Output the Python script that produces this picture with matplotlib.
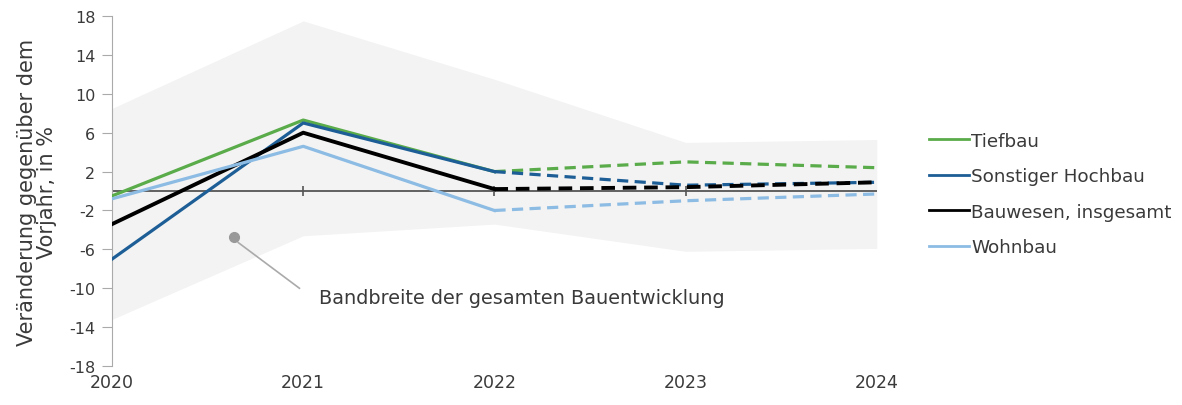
import numpy as np
import matplotlib.pyplot as plt
from matplotlib.lines import Line2D

plt.rcParams['font.family'] = ['DejaVu Sans']
plt.rcParams['axes.unicode_minus'] = False

jahre = [2020, 2021, 2022, 2023, 2024]
tiefbau = [-0.5, 7.3, 2.0, 3.0, 2.4]
sonst_hochbau = [-7.0, 7.0, 2.0, 0.6, 0.9]
bauwesen = [-3.4, 6.0, 0.2, 0.4, 0.9]
wohnbau = [-0.8, 4.6, -2.0, -1.0, -0.3]

band_oben = [8.5, 17.5, 11.5, 5.0, 5.3]
band_unten = [-13.2, -4.6, -3.4, -6.2, -5.9]

namen = ["Tiefbau", "Sonstiger Hochbau", "Bauwesen, insgesamt", "Wohnbau"]
farben = ["#5aab4a", "#1d5e96", "#000000", "#8cbbe3"]
breiten = [2.3, 2.3, 2.8, 2.3]
reihen = [tiefbau, sonst_hochbau, bauwesen, wohnbau]

textfarbe = "#3a3a3a"

fig = plt.figure(figsize=(11.82, 4.06), dpi=100)
ax = fig.add_axes([0.0948, 0.096, 0.647, 0.862])

ax.fill_between(jahre, band_unten, band_oben, color="#f3f3f3", lw=0, zorder=0)
ax.axhline(0, color="#555555", lw=1.3, zorder=1)
ax.plot(jahre[1:4], [0, 0, 0], ls="none", marker="|", ms=7, mew=1.2,
        color="#555555", zorder=1)

# Ist-Werte bis 2022 durchgezogen, Prognose danach gestrichelt
for name, werte, farbe, lw in zip(namen, reihen, farben, breiten):
    ax.plot(jahre[:3], werte[:3], color=farbe, lw=lw, zorder=3)
    ax.plot(jahre[2:], werte[2:], color=farbe, lw=lw, ls=(0, (3.5, 2)), zorder=3)

ax.set_xlim(2020, 2024)
ax.set_ylim(-18, 18)
ax.set_yticks(np.arange(-18, 19, 4))
ax.set_xticks(jahre)
ax.set_xticklabels([str(j) for j in jahre])
ax.tick_params(axis="x", length=0, pad=5, labelsize=12.5, colors=textfarbe)
ax.tick_params(axis="y", length=7, color="#aaaaaa", labelsize=11.5,
               labelcolor=textfarbe, pad=5)
for s in ["top", "right", "bottom"]:
    ax.spines[s].set_visible(False)
ax.spines["left"].set_color("#aaaaaa")
ax.set_ylabel("Veränderung gegenüber dem\nVorjahr, in %", fontsize=15,
              color=textfarbe, labelpad=9, linespacing=0.95)

ax.plot([2020.64], [-4.7], marker="o", ms=7, color="#999999", zorder=4)
ax.plot([2020.66, 2020.98], [-5.3, -10.0], color="#aaaaaa", lw=1.2, zorder=4)
ax.text(2021.08, -10.9, "Bandbreite der gesamten Bauentwicklung",
        fontsize=13.9, color=textfarbe, va="center", ha="left")

handles = [Line2D([], [], color=f, lw=2.0) for f in farben]
fig.legend(handles, namen, loc="center left", bbox_to_anchor=(0.772, 0.52),
           frameon=False, fontsize=13.2, handlelength=2.2, handletextpad=0.1,
           labelspacing=0.95, labelcolor=textfarbe)

fig.savefig("out.png", dpi=100)
